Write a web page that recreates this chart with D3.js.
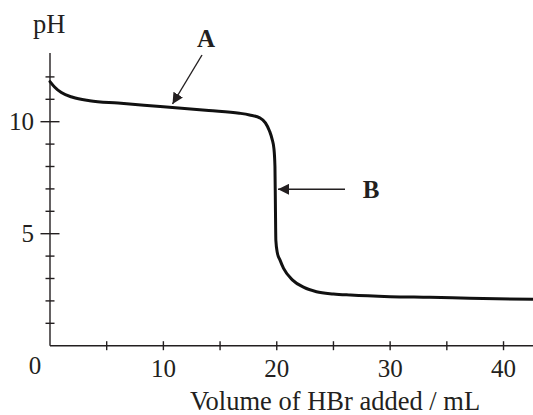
<!DOCTYPE html>
<html>
<head>
<meta charset="utf-8">
<script src="https://cdn.jsdelivr.net/npm/d3@7"></script>
<style>
  body { margin: 0; background: #fff; }
  text { font-family: "Liberation Serif", "Times New Roman", serif; fill: #231f20; }
</style>
</head>
<body>
<script>
// Titration curve values
const volume = [0, 0.4, 1, 2, 3.5, 6, 10, 14, 16.7, 17.6, 18.5, 19.0, 19.35, 19.6, 19.75, 19.84, 19.88, 19.92, 20.05, 20.28, 20.6, 21.4, 22.4, 23.5, 25, 26.5, 30, 33.5, 37, 42.6];
const pH     = [11.79, 11.55, 11.3, 11.09, 10.94, 10.83, 10.67, 10.5, 10.38, 10.3, 10.17, 9.95, 9.6, 9.2, 8.8, 8.0, 6.3, 4.7, 4.15, 3.83, 3.45, 2.93, 2.6, 2.41, 2.31, 2.26, 2.19, 2.16, 2.12, 2.07];

const xMajorTicks = [10, 20, 30, 40];
const xMinorTicks = [5, 10, 15, 20, 25, 30, 35, 40];
const yMajorTicks = [5, 10];
const yMinorTicks = [1, 2, 3, 4, 6, 7, 8, 9, 11, 12];

const width = 533, height = 415;
const ink = "#231f20";

const svg = d3.select("body").append("svg")
    .attr("width", width)
    .attr("height", height);

const x = d3.scaleLinear().domain([0, 42.6]).range([50, 533]);
const y = d3.scaleLinear().domain([0, 13]).range([345.7, 54.5]);

// axis lines
svg.append("line")
    .attr("x1", x(0)).attr("x2", x(0))
    .attr("y1", y(0)).attr("y2", 53)
    .attr("stroke", ink).attr("stroke-width", 1.4);
svg.append("line")
    .attr("x1", x(0)).attr("x2", width)
    .attr("y1", y(0)).attr("y2", y(0))
    .attr("stroke", ink).attr("stroke-width", 1.4);

// x ticks (all the same size, crossing the axis)
svg.selectAll(".xtick")
    .data(xMinorTicks)
    .enter().append("line")
    .attr("x1", d => x(d)).attr("x2", d => x(d))
    .attr("y1", y(0) - 4.5).attr("y2", y(0) + 4.5)
    .attr("stroke", ink).attr("stroke-width", 1.4);

// y ticks
svg.selectAll(".ymin")
    .data(yMinorTicks)
    .enter().append("line")
    .attr("x1", x(0) - 4.5).attr("x2", x(0) + 4.5)
    .attr("y1", d => y(d)).attr("y2", d => y(d))
    .attr("stroke", ink).attr("stroke-width", 1.4);
svg.selectAll(".ymaj")
    .data(yMajorTicks)
    .enter().append("line")
    .attr("x1", x(0) - 9.5).attr("x2", x(0) + 9.5)
    .attr("y1", d => y(d)).attr("y2", d => y(d))
    .attr("stroke", ink).attr("stroke-width", 1.4);

// tick labels
svg.selectAll(".xlab")
    .data(xMajorTicks)
    .enter().append("text")
    .attr("x", d => x(d))
    .attr("y", 377)
    .attr("text-anchor", "middle")
    .attr("font-size", 25)
    .text(d => d);
svg.append("text")
    .attr("x", 35).attr("y", 374)
    .attr("text-anchor", "middle")
    .attr("font-size", 25)
    .text("0");
svg.selectAll(".ylab")
    .data(yMajorTicks)
    .enter().append("text")
    .attr("x", 34)
    .attr("y", d => y(d))
    .attr("dy", "0.34em")
    .attr("text-anchor", "end")
    .attr("font-size", 25)
    .text(d => d);

// axis titles
svg.append("text")
    .attr("x", 33).attr("y", 33)
    .attr("font-size", 26.5)
    .text("pH");
svg.append("text")
    .attr("x", 335).attr("y", 410)
    .attr("text-anchor", "middle")
    .attr("font-size", 26.5)
    .text("Volume of HBr added / mL");

// the curve
const points = volume.map((v, i) => [v, pH[i]]);
const line = d3.line()
    .x(d => x(d[0]))
    .y(d => y(d[1]))
    .curve(d3.curveMonotoneX);
svg.append("path")
    .datum(points)
    .attr("d", line)
    .attr("fill", "none")
    .attr("stroke", "#111")
    .attr("stroke-width", 3)
    .attr("stroke-linecap", "round");

// arrow heads
svg.append("defs").append("marker")
    .attr("id", "head")
    .attr("viewBox", "0 0 10 10")
    .attr("refX", 10).attr("refY", 5)
    .attr("markerUnits", "userSpaceOnUse")
    .attr("markerWidth", 11).attr("markerHeight", 11)
    .attr("orient", "auto")
    .append("path")
    .attr("d", "M0,0 L10,5 L0,10 Z")
    .attr("fill", ink);

// label A
svg.append("line")
    .attr("x1", 202).attr("y1", 55)
    .attr("x2", 172.5).attr("y2", 104)
    .attr("stroke", ink).attr("stroke-width", 1.4)
    .attr("marker-end", "url(#head)");
svg.append("text")
    .attr("x", 206).attr("y", 47)
    .attr("text-anchor", "middle")
    .attr("font-size", 25)
    .attr("font-weight", "bold")
    .text("A");

// label B
svg.append("line")
    .attr("x1", 345).attr("y1", 189.3)
    .attr("x2", 278).attr("y2", 189.3)
    .attr("stroke", ink).attr("stroke-width", 1.4)
    .attr("marker-end", "url(#head)");
svg.append("text")
    .attr("x", 371).attr("y", 198)
    .attr("text-anchor", "middle")
    .attr("font-size", 25)
    .attr("font-weight", "bold")
    .text("B");
</script>
</body>
</html>
